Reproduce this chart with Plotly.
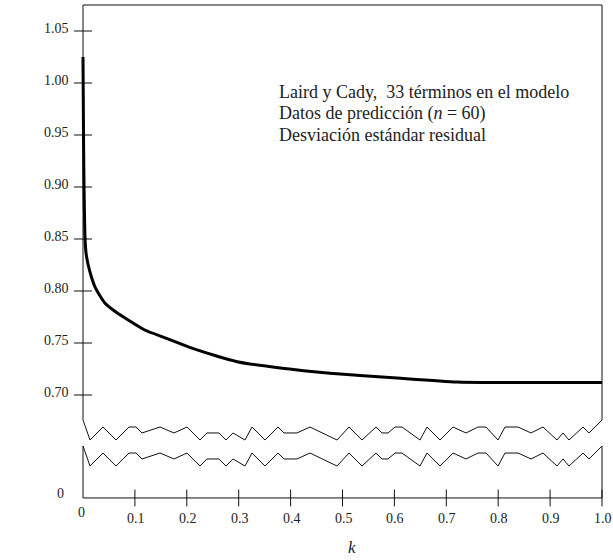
import plotly.graph_objects as go

# ---- data ----
k_curve = [0.0, 0.001, 0.002, 0.004, 0.006, 0.010, 0.016, 0.023, 0.032, 0.042, 0.060, 0.081, 0.119,
           0.158, 0.210, 0.297, 0.380, 0.476, 0.605, 0.720, 0.800, 0.900, 1.000]
sp_curve = [1.025, 0.95, 0.90, 0.85, 0.836, 0.825, 0.814, 0.804, 0.796, 0.7885, 0.781, 0.774, 0.7625,
            0.755, 0.745, 0.732, 0.726, 0.721, 0.7163, 0.7125, 0.712, 0.712, 0.712]

y_tick_vals = [0.70, 0.75, 0.80, 0.85, 0.90, 0.95, 1.00, 1.05]
y_tick_text = ["0.70", "0.75", "0.80", "0.85", "0.90", "0.95", "1.00", "1.05"]
x_tick_vals = [0.1, 0.2, 0.3, 0.4, 0.5, 0.6, 0.7, 0.8, 0.9, 1.0]
x_tick_text = ["0.1", "0.2", "0.3", "0.4", "0.5", "0.6", "0.7", "0.8", "0.9", "1.0"]

# axis-break zigzag (upper edge); lower edge is the same shape shifted down
zz_k = [0.0, 0.0135, 0.0385, 0.0636, 0.0886, 0.1021, 0.1137, 0.1484, 0.1753, 0.2004,
        0.2254, 0.2389, 0.2620, 0.2755, 0.2890, 0.3121, 0.3256, 0.3507, 0.3757, 0.3873,
        0.4123, 0.4374, 0.4894, 0.5125, 0.5376, 0.5645, 0.5761, 0.5877, 0.6012, 0.6146,
        0.6493, 0.6628, 0.6879, 0.7129, 0.7380, 0.7611, 0.7765, 0.7996, 0.8131, 0.8382,
        0.8632, 0.8863, 0.9133, 0.9249, 0.9364, 0.9634, 0.9750, 1.0]
E, H, M, L = 0.676, 0.6692, 0.6635, 0.6567
zz_y = [E, L, H, L, H, H, M, H, M, H,
        L, M, M, L, M, L, H, L, H, M,
        M, H, L, H, L, H, M, M, H, H,
        L, H, L, H, M, H, H, L, H, H,
        M, H, L, M, L, H, M, E]
break_gap = 0.025

y_top = 1.075
y_base = 0.601
break_top = E
break_bottom = E - break_gap

annot_lines = ["Laird y Cady,  33 términos en el modelo",
               "Datos de predicción (<i>n</i> = 60)",
               "Desviación estándar residual"]

FONT = "'Liberation Serif', 'DejaVu Serif', serif"
fig = go.Figure()

line_style = dict(color="#111111", width=1)
# upper frame
fig.add_trace(go.Scatter(x=[0, 0, 1, 1], y=[break_top, y_top, y_top, break_top],
                         mode="lines", line=line_style, cliponaxis=False))
# lower frame
fig.add_trace(go.Scatter(x=[0, 0, 1, 1], y=[break_bottom, y_base, y_base, break_bottom],
                         mode="lines", line=line_style, cliponaxis=False))
# zigzags
fig.add_trace(go.Scatter(x=zz_k, y=zz_y, mode="lines", line=line_style, cliponaxis=False))
fig.add_trace(go.Scatter(x=zz_k, y=[v - break_gap for v in zz_y], mode="lines",
                         line=line_style, cliponaxis=False))
# ticks
fig.add_trace(go.Scatter(x=[0] * len(y_tick_vals), y=y_tick_vals, mode="markers",
                         marker=dict(symbol="line-ew", size=13,
                                     line=dict(color="#111111", width=1)),
                         cliponaxis=False))
fig.add_trace(go.Scatter(x=x_tick_vals, y=[y_base] * len(x_tick_vals), mode="markers",
                         marker=dict(symbol="line-ns", size=12,
                                     line=dict(color="#111111", width=1)),
                         cliponaxis=False))
# main curve
fig.add_trace(go.Scatter(x=k_curve, y=sp_curve, mode="lines",
                         line=dict(color="black", width=3, shape="spline", smoothing=0.6),
                         cliponaxis=False))

annotations = []
tick_font = dict(family=FONT, size=14, color="#222222")
for v, t in zip(y_tick_vals, y_tick_text):
    annotations.append(dict(x=0, y=v, text=t, showarrow=False, xanchor="right",
                            yanchor="middle", xshift=-12, yshift=3, font=tick_font))
for v, t in zip(x_tick_vals, x_tick_text):
    annotations.append(dict(x=v, y=y_base, text=t, showarrow=False, xanchor="center",
                            yanchor="middle", xshift=1, yshift=-21, font=tick_font))
annotations.append(dict(x=0, y=y_base, text="0", showarrow=False, xanchor="center",
                        yanchor="middle", xshift=-2, yshift=-15, font=tick_font))
annotations.append(dict(x=0, y=y_base, text="0", showarrow=False, xanchor="center",
                        yanchor="middle", xshift=-23, yshift=4, font=tick_font))
annotations.append(dict(x=0.518, y=y_base, text="<i>k</i>", showarrow=False,
                        xanchor="center", yanchor="bottom", yshift=-61,
                        font=dict(family=FONT, size=17, color="#222222")))
annotations.append(dict(x=-0.121, y=0.876, text="<i>S</i><sub><i>p</i></sub>",
                        showarrow=False, xanchor="center", yanchor="middle",
                        font=dict(family=FONT, size=18, color="#222222")))
for i, t in enumerate(annot_lines):
    annotations.append(dict(x=0.3735, y=1.0, text=t, showarrow=False, xanchor="left",
                            yanchor="middle", yshift=-9 - 21.5 * i,
                            font=dict(family=FONT, size=18, color="#222222")))

# pixel geometry: x=0 at px 83, x=1 at px 602; 0.05 per 52 px vertically
ml, mr, mt, mb = 73, 1, 1, 58
W, Hh = 613, 560
pw = W - ml - mr
ph = Hh - mt - mb
sx = 519.0
xmin = -(83 - ml) / sx
xmax = xmin + pw / sx
sy = 52 / 0.05
ymax = 0.70 + (395 - mt) / sy
ymin = ymax - ph / sy

fig.update_layout(
    width=W, height=Hh,
    margin=dict(l=ml, r=mr, t=mt, b=mb),
    paper_bgcolor="white", plot_bgcolor="white",
    showlegend=False, hovermode=False,
    font=dict(family=FONT),
    xaxis=dict(range=[xmin, xmax], visible=False, fixedrange=True),
    yaxis=dict(range=[ymin, ymax], visible=False, fixedrange=True),
    annotations=annotations,
)

fig.write_html("out.html")
